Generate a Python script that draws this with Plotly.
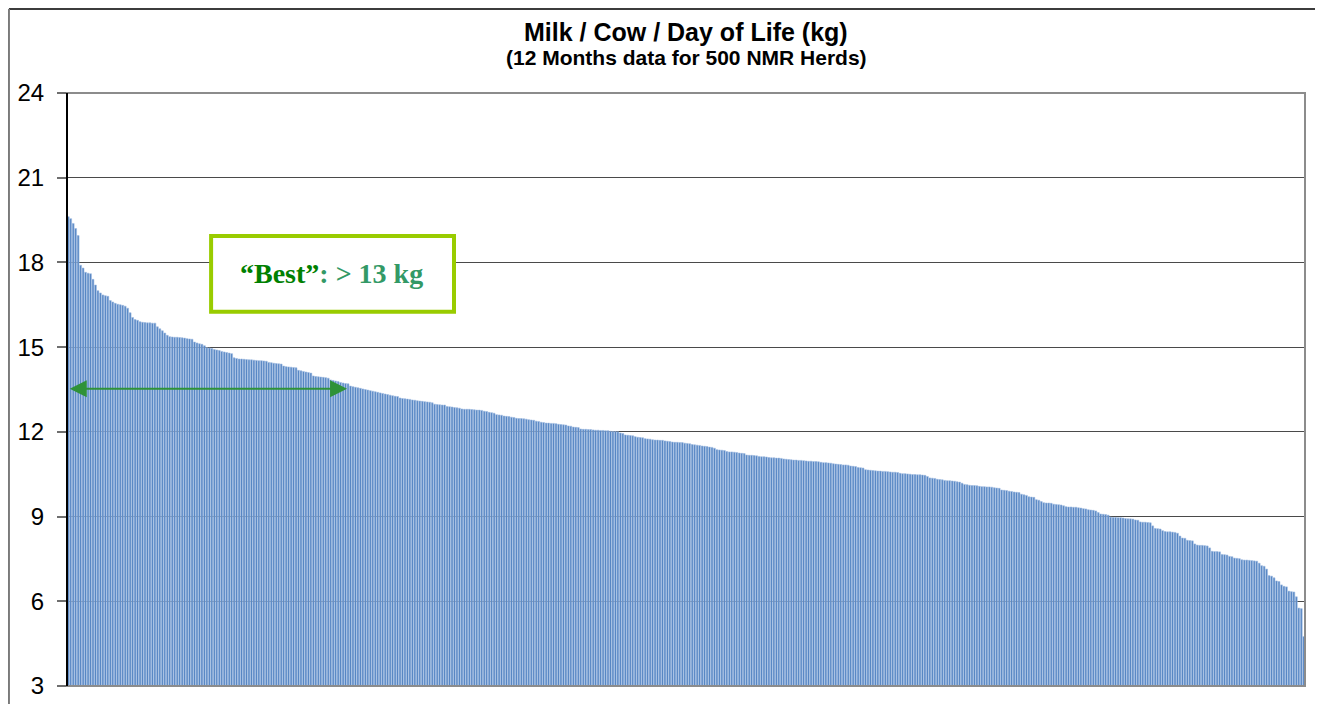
import plotly.graph_objects as go

# Milk / Cow / Day of Life (kg), 500 NMR herds sorted high to low
milk_per_day = [
    19.62, 19.55, 19.38, 19.20, 18.95, 17.90, 17.80, 17.65, 17.62, 17.60,
    17.40, 17.20, 17.00, 16.92, 16.85, 16.82, 16.80, 16.65, 16.60, 16.55,
    16.52, 16.50, 16.48, 16.45, 16.38, 16.22, 16.05, 15.98, 15.95, 15.90,
    15.88, 15.87, 15.86, 15.86, 15.85, 15.85, 15.72, 15.65, 15.58, 15.50,
    15.42, 15.37, 15.36, 15.35, 15.35, 15.34, 15.33, 15.32, 15.30, 15.29,
    15.28, 15.18, 15.15, 15.12, 15.10, 15.05, 14.98, 14.97, 14.95, 14.92,
    14.90, 14.88, 14.85, 14.83, 14.81, 14.79, 14.77, 14.62, 14.60, 14.58,
    14.58, 14.57, 14.56, 14.55, 14.55, 14.54, 14.53, 14.52, 14.52, 14.51,
    14.50, 14.46, 14.45, 14.43, 14.42, 14.41, 14.40, 14.33, 14.31, 14.30,
    14.29, 14.28, 14.27, 14.18, 14.16, 14.14, 14.12, 14.10, 14.08, 13.98,
    13.96, 13.95, 13.94, 13.93, 13.92, 13.90, 13.84, 13.82, 13.80, 13.78,
    13.75, 13.73, 13.71, 13.70, 13.62, 13.60, 13.58, 13.56, 13.54, 13.52,
    13.50, 13.48, 13.46, 13.44, 13.42, 13.40, 13.38, 13.36, 13.34, 13.32,
    13.30, 13.28, 13.26, 13.25, 13.20, 13.18, 13.17, 13.16, 13.15, 13.13,
    13.12, 13.10, 13.09, 13.08, 13.07, 13.06, 13.05, 13.03, 12.98, 12.97,
    12.96, 12.95, 12.95, 12.90, 12.89, 12.88, 12.86, 12.85, 12.84, 12.81,
    12.80, 12.80, 12.80, 12.79, 12.78, 12.77, 12.77, 12.76, 12.73, 12.72,
    12.69, 12.68, 12.66, 12.61, 12.60, 12.59, 12.56, 12.55, 12.54, 12.52,
    12.51, 12.48, 12.47, 12.47, 12.46, 12.45, 12.43, 12.42, 12.41, 12.38,
    12.37, 12.34, 12.33, 12.31, 12.31, 12.30, 12.30, 12.29, 12.27, 12.26,
    12.25, 12.24, 12.21, 12.20, 12.17, 12.16, 12.15, 12.10, 12.09, 12.09,
    12.08, 12.08, 12.07, 12.06, 12.06, 12.05, 12.05, 12.04, 12.04, 12.02,
    12.01, 12.01, 12.00, 11.96, 11.94, 11.89, 11.88, 11.87, 11.86, 11.83,
    11.81, 11.80, 11.79, 11.76, 11.75, 11.74, 11.72, 11.71, 11.71, 11.70,
    11.70, 11.68, 11.67, 11.66, 11.64, 11.63, 11.63, 11.62, 11.62, 11.60,
    11.59, 11.58, 11.55, 11.54, 11.53, 11.52, 11.50, 11.49, 11.48, 11.46,
    11.45, 11.42, 11.37, 11.36, 11.35, 11.34, 11.30, 11.29, 11.29, 11.28,
    11.27, 11.25, 11.24, 11.23, 11.18, 11.17, 11.17, 11.16, 11.15, 11.13,
    11.12, 11.12, 11.11, 11.09, 11.08, 11.08, 11.07, 11.07, 11.06, 11.04,
    11.03, 11.02, 11.01, 11.00, 11.00, 10.99, 10.99, 10.98, 10.97, 10.96,
    10.96, 10.95, 10.95, 10.94, 10.92, 10.91, 10.91, 10.90, 10.89, 10.87,
    10.86, 10.85, 10.84, 10.83, 10.83, 10.82, 10.79, 10.78, 10.77, 10.74,
    10.73, 10.72, 10.66, 10.65, 10.64, 10.63, 10.62, 10.61, 10.61, 10.60,
    10.60, 10.59, 10.58, 10.57, 10.57, 10.56, 10.53, 10.52, 10.52, 10.51,
    10.50, 10.49, 10.49, 10.48, 10.48, 10.47, 10.46, 10.42, 10.37, 10.36,
    10.35, 10.32, 10.31, 10.30, 10.28, 10.27, 10.27, 10.26, 10.25, 10.23,
    10.22, 10.18, 10.14, 10.13, 10.11, 10.10, 10.10, 10.09, 10.07, 10.06,
    10.06, 10.05, 10.05, 10.04, 10.02, 10.01, 10.00, 9.94, 9.93, 9.92,
    9.90, 9.89, 9.87, 9.86, 9.85, 9.79, 9.77, 9.75, 9.70, 9.69,
    9.68, 9.60, 9.58, 9.53, 9.49, 9.48, 9.48, 9.47, 9.44, 9.43,
    9.42, 9.41, 9.38, 9.35, 9.34, 9.34, 9.33, 9.33, 9.31, 9.30,
    9.28, 9.27, 9.24, 9.23, 9.22, 9.20, 9.14, 9.09, 9.08, 9.07,
    9.05, 8.98, 8.97, 8.97, 8.96, 8.96, 8.95, 8.93, 8.92, 8.92,
    8.91, 8.88, 8.87, 8.81, 8.80, 8.80, 8.79, 8.78, 8.67, 8.58,
    8.57, 8.56, 8.50, 8.47, 8.46, 8.46, 8.45, 8.44, 8.41, 8.31,
    8.24, 8.23, 8.16, 8.15, 8.14, 8.03, 7.99, 7.98, 7.98, 7.97,
    7.96, 7.89, 7.77, 7.76, 7.76, 7.75, 7.66, 7.65, 7.64, 7.59,
    7.58, 7.53, 7.52, 7.51, 7.47, 7.46, 7.46, 7.45, 7.44, 7.43,
    7.42, 7.35, 7.26, 7.24, 7.14, 6.91, 6.89, 6.83, 6.72, 6.70,
    6.58, 6.53, 6.51, 6.36, 6.34, 6.33, 6.16, 5.76, 5.74, 4.75,
]
herd_rank = list(range(1, len(milk_per_day) + 1))

y_ticks = [3, 6, 9, 12, 15, 18, 21, 24]

title_main = "Milk / Cow / Day of Life (kg)"
title_sub = "(12 Months data for 500 NMR Herds)"
best_threshold = 13
best_label = ('<b><span style="color:#008000">“Best”</span>'
              f': &gt; {best_threshold} kg</b>')

fig = go.Figure()

fig.add_trace(
    go.Bar(
        x=herd_rank,
        y=milk_per_day,
        marker=dict(color="#5283C2", line=dict(color="#A3BEE2", width=0.6)),
        hoverinfo="y",
    )
)

# 外框（页面上的图表边框）：上边深色，左边灰色，贴着图的边缘
fig.add_shape(type="line", xref="paper", yref="paper",
              x0=-0.0469, x1=1.1, y0=1.1417, y1=1.1417,
              line=dict(color="#3c3c3c", width=2))
fig.add_shape(type="line", xref="paper", yref="paper",
              x0=-0.0469, x1=-0.0469, y0=-0.2, y1=1.1417,
              line=dict(color="#7a7a7a", width=2))
# 绘图区边框
fig.add_shape(type="rect", xref="paper", yref="paper",
              x0=0, x1=1, y0=0, y1=1,
              line=dict(color="#8c8c8c", width=2), layer="above")
# 左侧纵轴线
fig.add_shape(type="line", xref="paper", yref="paper",
              x0=0, x1=0, y0=0, y1=1,
              line=dict(color="#000000", width=2), layer="above")

# "Best" 文本框
fig.add_shape(type="rect", xref="x", yref="y",
              x0=58.7, x1=156.8, y0=16.25, y1=18.94,
              line=dict(color="#99CC00", width=4), fillcolor="white", layer="above")
fig.add_annotation(x=107.5, y=17.62, xref="x", yref="y", text=best_label,
                   showarrow=False,
                   font=dict(family="Liberation Serif", size=28, color="#339966"))

# 双向箭头
fig.add_annotation(x=113.6, y=13.53, ax=1.0, ay=13.53,
                   xref="x", yref="y", axref="x", ayref="y", text="",
                   showarrow=True, arrowside="end+start",
                   arrowhead=2, startarrowhead=2, arrowsize=1.7, startarrowsize=1.7,
                   arrowwidth=2, arrowcolor="#2F9238", standoff=0, startstandoff=0)

# 标题
fig.add_annotation(x=0.5, y=1.1024, xref="paper", yref="paper", text=f"<b>{title_main}</b>",
                   showarrow=False, yanchor="middle",
                   font=dict(family="Liberation Sans", size=25, color="black"))
fig.add_annotation(x=0.5, y=1.0594, xref="paper", yref="paper", text=f"<b>{title_sub}</b>",
                   showarrow=False, yanchor="middle",
                   font=dict(family="Liberation Sans", size=21, color="black"))

# 页面 body 有 8px 边距，图尺寸相应缩小
fig.update_layout(
    width=1315,
    height=696,
    margin=dict(l=59, r=18, t=85, b=18),
    paper_bgcolor="white",
    plot_bgcolor="white",
    bargap=0.25,
    showlegend=False,
    xaxis=dict(range=[0.5, len(milk_per_day) + 0.5], showticklabels=False,
               showgrid=False, zeroline=False, ticks="", automargin=False),
    yaxis=dict(range=[3, 24], tickvals=y_ticks, ticks="outside", ticklen=9,
               tickcolor="#6e6e6e", tickwidth=1.5, ticklabelstandoff=8,
               showgrid=True, gridcolor="#4a4a4a", gridwidth=1, zeroline=False,
               tickfont=dict(family="Liberation Sans", size=24, color="black"),
               automargin=False),
)

fig.write_html("out.html")
